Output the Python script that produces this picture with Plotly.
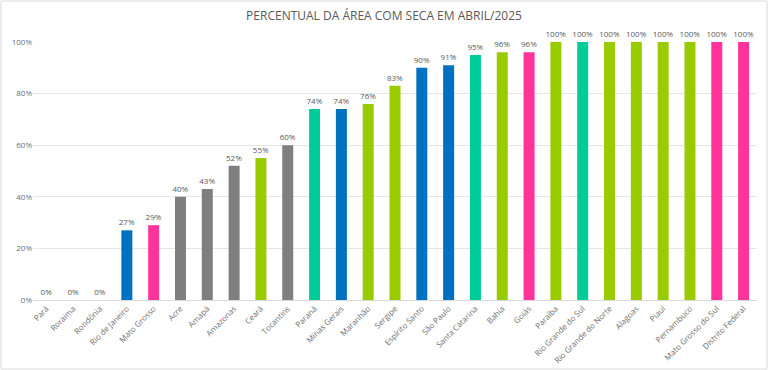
import plotly.graph_objects as go

categories = ["Pará", "Roraima", "Rondônia", "Rio de Janeiro", "Mato Grosso", "Acre", "Amapá",
              "Amazonas", "Ceará", "Tocantins", "Paraná", "Minas Gerais", "Maranhão", "Sergipe",
              "Espírito Santo", "São Paulo", "Santa Catarina", "Bahia", "Goiás", "Paraíba",
              "Rio Grande do Sul", "Rio Grande do Norte", "Alagoas", "Piauí", "Pernambuco",
              "Mato Grosso do Sul", "Distrito Federal"]
values = [0, 0, 0, 27, 29, 40, 43, 52, 55, 60, 74, 74, 76, 83, 90, 91, 95, 96, 96,
          100, 100, 100, 100, 100, 100, 100, 100]
regions = ["N", "N", "N", "SE", "CO", "N", "N", "N", "NE", "N", "S", "SE", "NE", "NE",
           "SE", "SE", "S", "NE", "CO", "NE", "S", "NE", "NE", "NE", "NE", "CO", "CO"]
region_colors = {"N": "#7F7F7F", "NE": "#99CC00", "SE": "#0070C0", "S": "#00CC99", "CO": "#FF3399"}

W, H = 768, 370
ml, mr, mt, mb = 33, 11, 42, 70
pw, ph = W - ml - mr, H - mt - mb

fig = go.Figure(go.Bar(
    x=categories, y=values,
    marker=dict(color=[region_colors[r] for r in regions], line=dict(width=0)),
    text=[f"{v}%" for v in values], textposition="outside",
    textfont=dict(size=8, color="#595959", family="Open Sans"),
    constraintext="none",
    cliponaxis=False,
))

fig.update_layout(
    width=W, height=H,
    margin=dict(l=ml, r=mr, t=mt, b=mb),
    paper_bgcolor="white", plot_bgcolor="white",
    bargap=0.59,
    showlegend=False,
    title=dict(text="PERCENTUAL DA ÁREA COM SECA EM ABRIL/2025", x=0.5, xanchor="center",
               y=1 - 16 / H, yanchor="middle",
               font=dict(size=12, color="#595959", family="Open Sans")),
    font=dict(family="Open Sans", color="#595959", size=8),
    xaxis=dict(tickangle=-45, tickfont=dict(size=8, color="#6E6E6E"), showline=True,
               linecolor="#D9D9D9", linewidth=1, ticks="", showgrid=False, automargin=False),
    yaxis=dict(range=[0, 100], dtick=20, ticksuffix="%", tickfont=dict(size=8, color="#6E6E6E"),
               gridcolor="#E5E5E5", gridwidth=1, zeroline=False, showline=False, ticks="",
               automargin=False),
    shapes=[dict(type="rect", xref="paper", yref="paper",
                 x0=-(ml - 1) / pw, x1=1 + (mr - 1) / pw,
                 y0=-(mb - 1) / ph, y1=1 + (mt - 1) / ph,
                 line=dict(color="#D9D9D9", width=1), fillcolor="rgba(0,0,0,0)", layer="below")],
)

fig.write_html("out.html", config={"displayModeBar": False},
               post_script="document.body.style.margin='0';")
